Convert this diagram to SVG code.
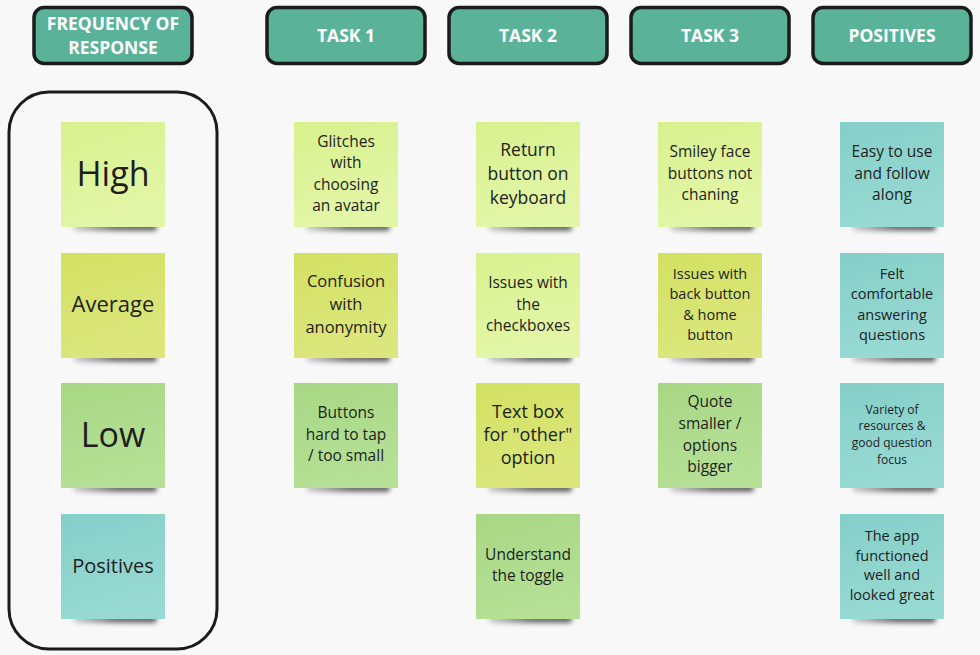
<svg xmlns="http://www.w3.org/2000/svg" width="980" height="655" viewBox="0 0 980 655">
<defs>
<linearGradient id="gLime" x1="0" y1="0" x2="0.3" y2="1"><stop offset="0" stop-color="#D8F18D"/><stop offset="1" stop-color="#E3F6A8"/></linearGradient>
<linearGradient id="gYel" x1="0" y1="0" x2="0.3" y2="1"><stop offset="0" stop-color="#D2E162"/><stop offset="1" stop-color="#DBE77D"/></linearGradient>
<linearGradient id="gGrn" x1="0" y1="0" x2="0.3" y2="1"><stop offset="0" stop-color="#A7D784"/><stop offset="1" stop-color="#B5E096"/></linearGradient>
<linearGradient id="gTeal" x1="0" y1="0" x2="0.3" y2="1"><stop offset="0" stop-color="#84CFC8"/><stop offset="1" stop-color="#98D9D3"/></linearGradient>
<linearGradient id="gShadow" x1="0" y1="0" x2="1" y2="0"><stop offset="0" stop-color="#000" stop-opacity="0.15"/><stop offset="0.5" stop-color="#000" stop-opacity="0.55"/><stop offset="1" stop-color="#000" stop-opacity="0.6"/></linearGradient>
<filter id="blur" x="-20%" y="-200%" width="140%" height="500%"><feGaussianBlur stdDeviation="2.5"/></filter>
<rect id="shadow" x="12" y="101" width="84" height="8" rx="4" fill="url(#gShadow)" filter="url(#blur)"/>
</defs>
<style>
.hdr{fill:#5AB399;stroke:#1B1B1B;stroke-width:3.5}
.ht{font-family:"Open Sans","Liberation Sans",sans-serif;font-weight:700;font-size:17.5px;fill:#FFFFFF;text-anchor:middle}
.nt{font-family:"Open Sans","Liberation Sans",sans-serif;fill:#1E1E1E;text-anchor:middle}
.lime{fill:url(#gLime)}
.yel{fill:url(#gYel)}
.grn{fill:url(#gGrn)}
.teal{fill:url(#gTeal)}
</style>
<rect x="0" y="0" width="980" height="655" fill="#F8F8F8"/>

<g id="connectors"></g>

<g id="frame">
<rect x="9" y="92" width="208" height="557" rx="40" fill="none" stroke="#1B1B1B" stroke-width="3"/>
</g>

<g id="h-freq"><rect class="hdr" x="34" y="7.5" width="158" height="56" rx="10"/>
<text class="ht"><tspan x="113" y="30">FREQUENCY OF</tspan><tspan x="113" y="54">RESPONSE</tspan></text></g>
<g id="h-task1"><rect class="hdr" x="267" y="7.5" width="158" height="56" rx="10"/><text class="ht" x="346" y="42">TASK 1</text></g>
<g id="h-task2"><rect class="hdr" x="449" y="7.5" width="158" height="56" rx="10"/><text class="ht" x="528" y="42">TASK 2</text></g>
<g id="h-task3"><rect class="hdr" x="631" y="7.5" width="158" height="56" rx="10"/><text class="ht" x="710" y="42">TASK 3</text></g>
<g id="h-pos"><rect class="hdr" x="813" y="7.5" width="158" height="56" rx="10"/><text class="ht" x="892" y="42">POSITIVES</text></g>

<!-- Legend column -->
<g id="n-high" transform="translate(61,122)"><use href="#shadow"/><rect class="lime" width="104" height="105"/>
<text class="nt" x="52" y="63.5" font-size="34">High</text></g>
<g id="n-average" transform="translate(61,253)"><use href="#shadow"/><rect class="yel" width="104" height="105"/>
<text class="nt" x="52" y="59" font-size="22">Average</text></g>
<g id="n-low" transform="translate(61,383)"><use href="#shadow"/><rect class="grn" width="104" height="105"/>
<text class="nt" x="52" y="63.5" font-size="34">Low</text></g>
<g id="n-positives" transform="translate(61,514)"><use href="#shadow"/><rect class="teal" width="104" height="105"/>
<text class="nt" x="52" y="58.5" font-size="20">Positives</text></g>

<!-- Task 1 -->
<g id="t1-glitches" transform="translate(294,122)"><use href="#shadow"/><rect class="lime" width="104" height="105"/>
<text class="nt" font-size="15.5"><tspan x="52" y="24.6">Glitches</tspan><tspan x="52" y="46.1">with</tspan><tspan x="52" y="67.6">choosing</tspan><tspan x="52" y="89.1">an avatar</tspan></text></g>
<g id="t1-confusion" transform="translate(294,253)"><use href="#shadow"/><rect class="yel" width="104" height="105"/>
<text class="nt" font-size="16.5"><tspan x="52" y="34.3">Confusion</tspan><tspan x="52" y="57.3">with</tspan><tspan x="52" y="80.3">anonymity</tspan></text></g>
<g id="t1-buttons" transform="translate(294,383)"><use href="#shadow"/><rect class="grn" width="104" height="105"/>
<text class="nt" font-size="15.5"><tspan x="52" y="35.4">Buttons</tspan><tspan x="52" y="56.9">hard to tap</tspan><tspan x="52" y="78.4">/ too small</tspan></text></g>

<!-- Task 2 -->
<g id="t2-return" transform="translate(476,122)"><use href="#shadow"/><rect class="lime" width="104" height="105"/>
<text class="nt" font-size="17.5"><tspan x="52" y="33.6">Return</tspan><tspan x="52" y="57.6">button on</tspan><tspan x="52" y="81.6">keyboard</tspan></text></g>
<g id="t2-checkboxes" transform="translate(476,253)"><use href="#shadow"/><rect class="lime" width="104" height="105"/>
<text class="nt" font-size="15.5"><tspan x="52" y="35.4">Issues with</tspan><tspan x="52" y="56.9">the</tspan><tspan x="52" y="78.4">checkboxes</tspan></text></g>
<g id="t2-textbox" transform="translate(476,383)"><use href="#shadow"/><rect class="yel" width="104" height="105"/>
<text class="nt" font-size="18"><tspan x="52" y="34.8">Text box</tspan><tspan x="52" y="57.8">for "other"</tspan><tspan x="52" y="80.8">option</tspan></text></g>
<g id="t2-toggle" transform="translate(476,514)"><use href="#shadow"/><rect class="grn" width="104" height="105"/>
<text class="nt" font-size="15.5"><tspan x="52" y="46.4">Understand</tspan><tspan x="52" y="67.4">the toggle</tspan></text></g>

<!-- Task 3 -->
<g id="t3-smiley" transform="translate(658,122)"><use href="#shadow"/><rect class="lime" width="104" height="105"/>
<text class="nt" font-size="15.5"><tspan x="52" y="35.4">Smiley face</tspan><tspan x="52" y="56.9">buttons not</tspan><tspan x="52" y="78.4">chaning</tspan></text></g>
<g id="t3-back" transform="translate(658,253)"><use href="#shadow"/><rect class="yel" width="104" height="105"/>
<text class="nt" font-size="14.5"><tspan x="52" y="26.1">Issues with</tspan><tspan x="52" y="46.4">back button</tspan><tspan x="52" y="66.8">&amp; home</tspan><tspan x="52" y="87.1">button</tspan></text></g>
<g id="t3-quote" transform="translate(658,383)"><use href="#shadow"/><rect class="grn" width="104" height="105"/>
<text class="nt" font-size="15.5"><tspan x="52" y="24.4">Quote</tspan><tspan x="52" y="46.1">smaller /</tspan><tspan x="52" y="67.7">options</tspan><tspan x="52" y="89.4">bigger</tspan></text></g>

<!-- Positives -->
<g id="p-easy" transform="translate(840,122)"><use href="#shadow"/><rect class="teal" width="104" height="105"/>
<text class="nt" font-size="15.5"><tspan x="52" y="35.4">Easy to use</tspan><tspan x="52" y="56.9">and follow</tspan><tspan x="52" y="78.4">along</tspan></text></g>
<g id="p-felt" transform="translate(840,253)"><use href="#shadow"/><rect class="teal" width="104" height="105"/>
<text class="nt" font-size="14.5"><tspan x="52" y="26.1">Felt</tspan><tspan x="52" y="46.4">comfortable</tspan><tspan x="52" y="66.8">answering</tspan><tspan x="52" y="87.1">questions</tspan></text></g>
<g id="p-variety" transform="translate(840,383)"><use href="#shadow"/><rect class="teal" width="104" height="105"/>
<text class="nt" font-size="12"><tspan x="52" y="30.6">Variety of</tspan><tspan x="52" y="47.3">resources &amp;</tspan><tspan x="52" y="64.1">good question</tspan><tspan x="52" y="80.8">focus</tspan></text></g>
<g id="p-app" transform="translate(840,514)"><use href="#shadow"/><rect class="teal" width="104" height="105"/>
<text class="nt" font-size="14.5"><tspan x="52" y="27.1">The app</tspan><tspan x="52" y="46.8">functioned</tspan><tspan x="52" y="66.4">well and</tspan><tspan x="52" y="86.1">looked great</tspan></text></g>
</svg>
